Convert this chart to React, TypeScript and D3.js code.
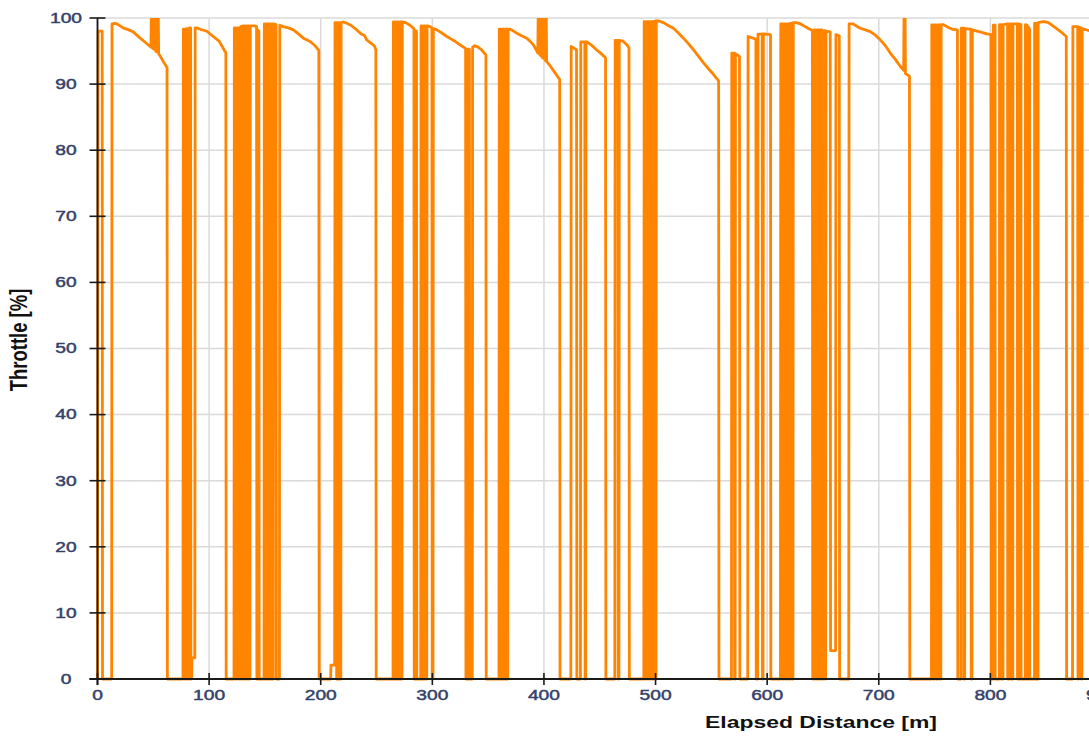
import React from "react";
import * as d3 from "d3";

// Throttle trace: [elapsed distance (m), throttle (%)]
const trace: [number, number][] = [
  [0, 0], [0, 6.5], [0.6, 98], [4.2, 98], [4.5, 0], [12.7, 0], [13.0, 99.1],
  [15.7, 99.2], [18.5, 99.0], [23, 98.5], [28, 98.2], [32, 97.9], [38, 97.0], [43, 96.3], [47.9, 95.6],
  [48.2, 100], [49.2, 100], [49.5, 95.4], [50.4, 95.3], [50.7, 100], [51.8, 100], [52.1, 95], [53, 94.9],
  [53.3, 100], [54.5, 100], [54.8, 94.6], [56.3, 94.2], [59, 93.4], [62.3, 92.5], [62.6, 0],
  [76.6, 0], [76.9, 98.3], [78.1, 98.3], [78.4, 0], [79.4, 0], [79.7, 98.4], [80.9, 98.4], [81.2, 0],
  [82.2, 0], [82.5, 98.5], [83.4, 98.5], [83.7, 0], [84.4, 0], [84.6, 3.2], [87.2, 3.2], [87.5, 98.5],
  [89, 98.5], [92, 98.3], [98, 98], [103, 97.3], [109, 96.5], [114, 95], [115, 94.8], [115.3, 0],
  [122.3, 0], [122.6, 98.5], [123.8, 98.5], [124.1, 0], [125.2, 0], [125.5, 98.5], [126.7, 98.5], [127, 0],
  [128.1, 0], [128.4, 98.7], [129.6, 98.8], [129.9, 0], [131, 0], [131.3, 98.8], [132.5, 98.8], [132.8, 0],
  [133.9, 0], [134.2, 98.8], [135.4, 98.8], [135.7, 0], [136.6, 0], [136.9, 98.8],
  [141, 98.8], [142.5, 98.7], [142.8, 0], [143.3, 0], [143.6, 98.2], [144.6, 98], [144.9, 0],
  [149.2, 0], [149.5, 99.1], [150.7, 99.1], [151, 0], [152, 0], [152.3, 99.1], [153.5, 99.1], [153.8, 0],
  [154.8, 0], [155.1, 99.1], [156.3, 99.1], [156.6, 0], [157.5, 0], [157.8, 99.1],
  [160, 99], [160.3, 0], [163, 0], [163.3, 98.9],
  [166.5, 98.7], [171, 98.5], [175.5, 98.2], [180, 97.6], [184.5, 96.95], [190.5, 96.45], [195, 95.8], [198.3, 95.1], [198.6, 0],
  [208.9, 0], [209.2, 2.1], [212.5, 2.1],
  [212.8, 99.3], [214, 99.3], [214.3, 0], [215.3, 0], [215.6, 99.3], [216.8, 99.3], [217.1, 0], [218, 0], [218.3, 99.3],
  [220, 99.4], [223.3, 99.2], [227, 98.9], [232.3, 98.2], [236, 97.6], [239, 97.4], [241.2, 96.7], [245, 96.2], [248, 95.8], [249.4, 95.2], [249.7, 0],
  [264.8, 0], [265.1, 99.4], [266.3, 99.4], [266.6, 0], [267.6, 0], [267.9, 99.4], [269.1, 99.4], [269.4, 0],
  [270.4, 0], [270.7, 99.4], [271.9, 99.4], [272.2, 0], [272.8, 0], [273.1, 99.4],
  [276, 99.3], [280, 98.9], [283.5, 98.4], [283.8, 0], [284.6, 0], [284.9, 98.1], [285.8, 98], [286.1, 0],
  [289.6, 0], [289.9, 98.8], [291.1, 98.8], [291.4, 0], [292.3, 0], [292.6, 98.8], [293.8, 98.8], [294.1, 0], [295, 0], [295.3, 98.8],
  [298, 98.7], [299.6, 98.5], [299.9, 0], [300.6, 0], [300.9, 98.4],
  [304, 98.2], [308, 97.8], [313, 97.2], [317, 96.8], [321, 96.4], [326, 95.8], [329.8, 95.4], [330.1, 0],
  [331.8, 0], [332.1, 95.3], [333.2, 95.3], [333.5, 0], [335.8, 0], [336.1, 95.6],
  [338, 95.8], [341, 95.6], [344, 95.2], [346.5, 94.7], [348, 94.4], [348.3, 0],
  [359.7, 0], [360, 98.3], [361.2, 98.3], [361.5, 0], [362.5, 0], [362.8, 98.3], [364, 98.3], [364.3, 0],
  [365.3, 0], [365.6, 98.3], [366.8, 98.3], [367.1, 0], [367.6, 0], [367.9, 98.3],
  [369.6, 98.3], [372, 98.1], [375.6, 97.7], [380, 97.3], [384.6, 96.95], [387.5, 96.5], [390.5, 95.95], [393, 95.2], [394.5, 94.7],
  [394.8, 100], [395.8, 100], [396.1, 94.5], [397, 94.3], [397.3, 100], [398.3, 100], [398.6, 94], [399.5, 93.9],
  [399.8, 100], [400.8, 100], [401.1, 93.6], [401.6, 93.5], [401.9, 100], [402.1, 100], [402.4, 93.4],
  [405, 92.9], [410, 91.7], [414.1, 90.7], [414.4, 0],
  [424.1, 0], [424.4, 95.7], [429.2, 95.2], [429.5, 0],
  [432.7, 0], [433, 96.4], [436.6, 96.4], [436.9, 0], [437.4, 0], [437.7, 96.4],
  [438.5, 96.4], [441, 96.1], [444, 95.7], [447, 95.2], [450, 94.8], [455.2, 94], [455.5, 0],
  [463.5, 0], [463.8, 96.6], [466.3, 96.6], [466.6, 0], [467.2, 0], [467.5, 96.6],
  [471, 96.5], [474, 96], [476.2, 95.5], [476.5, 0],
  [489.5, 0], [489.8, 99.45], [491, 99.45], [491.3, 0], [492.3, 0], [492.6, 99.45], [493.8, 99.45], [494.1, 0],
  [495.1, 0], [495.4, 99.45], [496.6, 99.45], [496.9, 0], [497.9, 0], [498.2, 99.5], [499.4, 99.5], [499.7, 0], [500.4, 0], [500.7, 99.55],
  [503, 99.55], [507, 99.3], [511, 98.9], [516, 98.45], [520, 97.8], [525, 96.95], [529, 96.2], [534, 95.2],
  [538, 94.3], [543, 93.2], [547, 92.4], [552, 91.45], [556.5, 90.5], [556.8, 0],
  [568, 0], [568.3, 94.7], [570.5, 94.7], [570.8, 0], [571.3, 0], [571.6, 94.6], [575.2, 94.2], [575.5, 0],
  [582.6, 0], [582.9, 97.2], [589.9, 96.8], [590.2, 0], [591.5, 0], [591.8, 97.55], [595.5, 97.55], [595.8, 0],
  [596.3, 0], [596.6, 97.6], [603, 97.5], [603.3, 0],
  [611.9, 0], [612.2, 99.1], [613.4, 99.1], [613.7, 0], [614.7, 0], [615, 99.1], [616.2, 99.1], [616.5, 0],
  [617.5, 0], [617.8, 99.1], [619, 99.1], [619.3, 0], [620.3, 0], [620.6, 99.2], [621.8, 99.2], [622.1, 0], [623.1, 0], [623.4, 99.3],
  [626, 99.3], [630, 99.1], [634, 98.7], [637, 98.4], [640.5, 98.1], [640.8, 0],
  [641.8, 0], [642.1, 98.2], [643.3, 98.2], [643.6, 0], [644.6, 0], [644.9, 98.2], [646.1, 98.2], [646.4, 0],
  [647.4, 0], [647.7, 98.2], [648.9, 98.2], [649.2, 0], [650.2, 0], [650.5, 98.1], [651.7, 98.1], [652, 0], [652.4, 0], [652.7, 98],
  [655, 97.95], [656.5, 97.9], [656.8, 4.3], [661.3, 4.3], [661.6, 97.5], [664.6, 97.3], [664.9, 0],
  [673.1, 0], [673.4, 99.1],
  [677, 99.1], [680, 98.8], [683.4, 98.45], [688, 98.2], [692.4, 97.95], [697, 97.4], [701.3, 96.7], [706, 95.8],
  [710.3, 94.7], [715, 93.7], [719.2, 92.7], [722.3, 92.1], [722.6, 100], [723.6, 100], [723.9, 91.6], [727.5, 91.2], [727.8, 0],
  [747.2, 0], [747.5, 98.95], [748.7, 98.95], [749, 0], [750, 0], [750.3, 98.95], [751.5, 98.95], [751.8, 0],
  [752.8, 0], [753.1, 98.95], [754.3, 98.95], [754.6, 0], [755.6, 0], [755.9, 99],
  [758, 99], [762, 98.6], [766, 98.3], [770.5, 98.2], [770.8, 0], [773.6, 0], [773.9, 98.45], [776, 98.45], [776.3, 0],
  [777, 0], [777.3, 98.4], [782.5, 98.3], [782.8, 0], [783.5, 0], [783.8, 98.2],
  [788, 98], [793, 97.8], [797, 97.6], [800.5, 97.5], [800.8, 0],
  [802.5, 0], [802.6, 98.9], [804.2, 98.9], [804.3, 0], [808.1, 0], [808.2, 99], [809.8, 99], [809.9, 0],
  [811.3, 0], [811.4, 99], [815.4, 99.1], [815.5, 0], [816.9, 0], [817, 99.1], [818.6, 99.1], [818.7, 0],
  [820.1, 0], [820.2, 99.1], [824.2, 99.1], [824.3, 0], [825.7, 0], [825.8, 99.1], [827.4, 99], [827.5, 0],
  [831.3, 0], [831.4, 99], [833, 98.9], [833.1, 0], [834.1, 0], [834.2, 98.6], [835.2, 98.2], [835.3, 0],
  [839.5, 0], [839.6, 99.2], [841.2, 99.2], [841.3, 0], [842.7, 0], [842.8, 99.3],
  [846, 99.4], [848, 99.45], [852, 99.3], [856, 98.8], [860, 98.3], [864, 97.8], [868, 97.2], [868.3, 0],
  [873.6, 0], [873.9, 98.7], [878.2, 98.7], [878.5, 0], [879, 0], [879.3, 98.6], [881.2, 98.5], [881.5, 0],
  [882, 0], [882.3, 98.4], [890, 98], [895, 97.6], [895.3, 0], [905, 0],
];

const xTicks = [0, 100, 200, 300, 400, 500, 600, 700, 800, 900];
const yTicks = [0, 10, 20, 30, 40, 50, 60, 70, 80, 90, 100];
const xTitle = "Elapsed Distance [m]";
const yTitle = "Throttle [%]";

const W = 1089;
const H = 738;
const STRETCH = 1.37;

export default function App() {
  const x = d3.scaleLinear().domain([0, 900]).range([97.5, 1102]);
  const y = d3.scaleLinear().domain([0, 100]).range([679, 18]);
  const line = d3
    .line<[number, number]>()
    .x((d) => x(d[0]))
    .y((d) => y(d[1]));

  const tickColor = "#34426a";
  const font = "'Liberation Sans', Arial, sans-serif";

  return (
    <div style={{ position: "fixed", left: 0, top: 0, width: W, height: H, background: "#fff" }}>
      <svg width={W} height={H} style={{ display: "block", overflow: "hidden" }}>
        <defs>
          <clipPath id="plotClip">
            <rect x={0} y={18} width={W} height={670} />
          </clipPath>
        </defs>
        {/* grid */}
        {yTicks.map((t) => (
          <line key={"gy" + t} x1={x(0)} x2={W} y1={y(t)} y2={y(t)} stroke="#dadada" strokeWidth={1.5} />
        ))}
        {xTicks.map((t) => (
          <line key={"gx" + t} x1={x(t)} x2={x(t)} y1={y(100)} y2={y(0)} stroke="#dadada" strokeWidth={1.5} />
        ))}
        {/* trace */}
        <path
          d={line(trace) || ""}
          fill="none"
          stroke="#ff8400"
          strokeWidth={2.8}
          strokeLinejoin="round"
          clipPath="url(#plotClip)"
        />
        {/* axes */}
        <line x1={x(0)} x2={x(0)} y1={y(100)} y2={y(0) + 6} stroke="#1a1a1a" strokeWidth={1.8} />
        <line x1={x(0) - 8} x2={W} y1={y(0)} y2={y(0)} stroke="#1a1a1a" strokeWidth={1.8} />
        {yTicks.map((t) => (
          <line key={"ty" + t} x1={x(0) - 8} x2={x(0) + 8} y1={y(t)} y2={y(t)} stroke="#1a1a1a" strokeWidth={1.6} />
        ))}
        {xTicks.map((t) => (
          <line key={"tx" + t} x1={x(t)} x2={x(t)} y1={y(0) - 6} y2={y(0) + 6} stroke="#1a1a1a" strokeWidth={1.6} />
        ))}
        {/* tick labels */}
        {yTicks.map((t) => (
          <text
            key={"ly" + t}
            transform={`translate(66,${y(t) + 4.8}) scale(${STRETCH},1)`}
            textAnchor="middle"
            fontFamily={font}
            fontSize={14}
            fill={tickColor}
            stroke={tickColor}
            strokeWidth={0.45}
          >
            {t}
          </text>
        ))}
        {xTicks.map((t) => (
          <text
            key={"lx" + t}
            transform={`translate(${x(t)},700) scale(${STRETCH},1)`}
            textAnchor="middle"
            fontFamily={font}
            fontSize={14}
            fill={tickColor}
            stroke={tickColor}
            strokeWidth={0.45}
          >
            {t}
          </text>
        ))}
        {/* axis titles */}
        <text
          transform={`translate(821,728) scale(1.35,1)`}
          textAnchor="middle"
          fontFamily={font}
          fontSize={17}
          fontWeight="bold"
          fill="#111"
        >
          {xTitle}
        </text>
        <text
          transform={`translate(27,340) scale(1.3,1) rotate(-90)`}
          textAnchor="middle"
          fontFamily={font}
          fontSize={18.5}
          fontWeight="bold"
          fill="#111"
        >
          {yTitle}
        </text>
      </svg>
    </div>
  );
}
